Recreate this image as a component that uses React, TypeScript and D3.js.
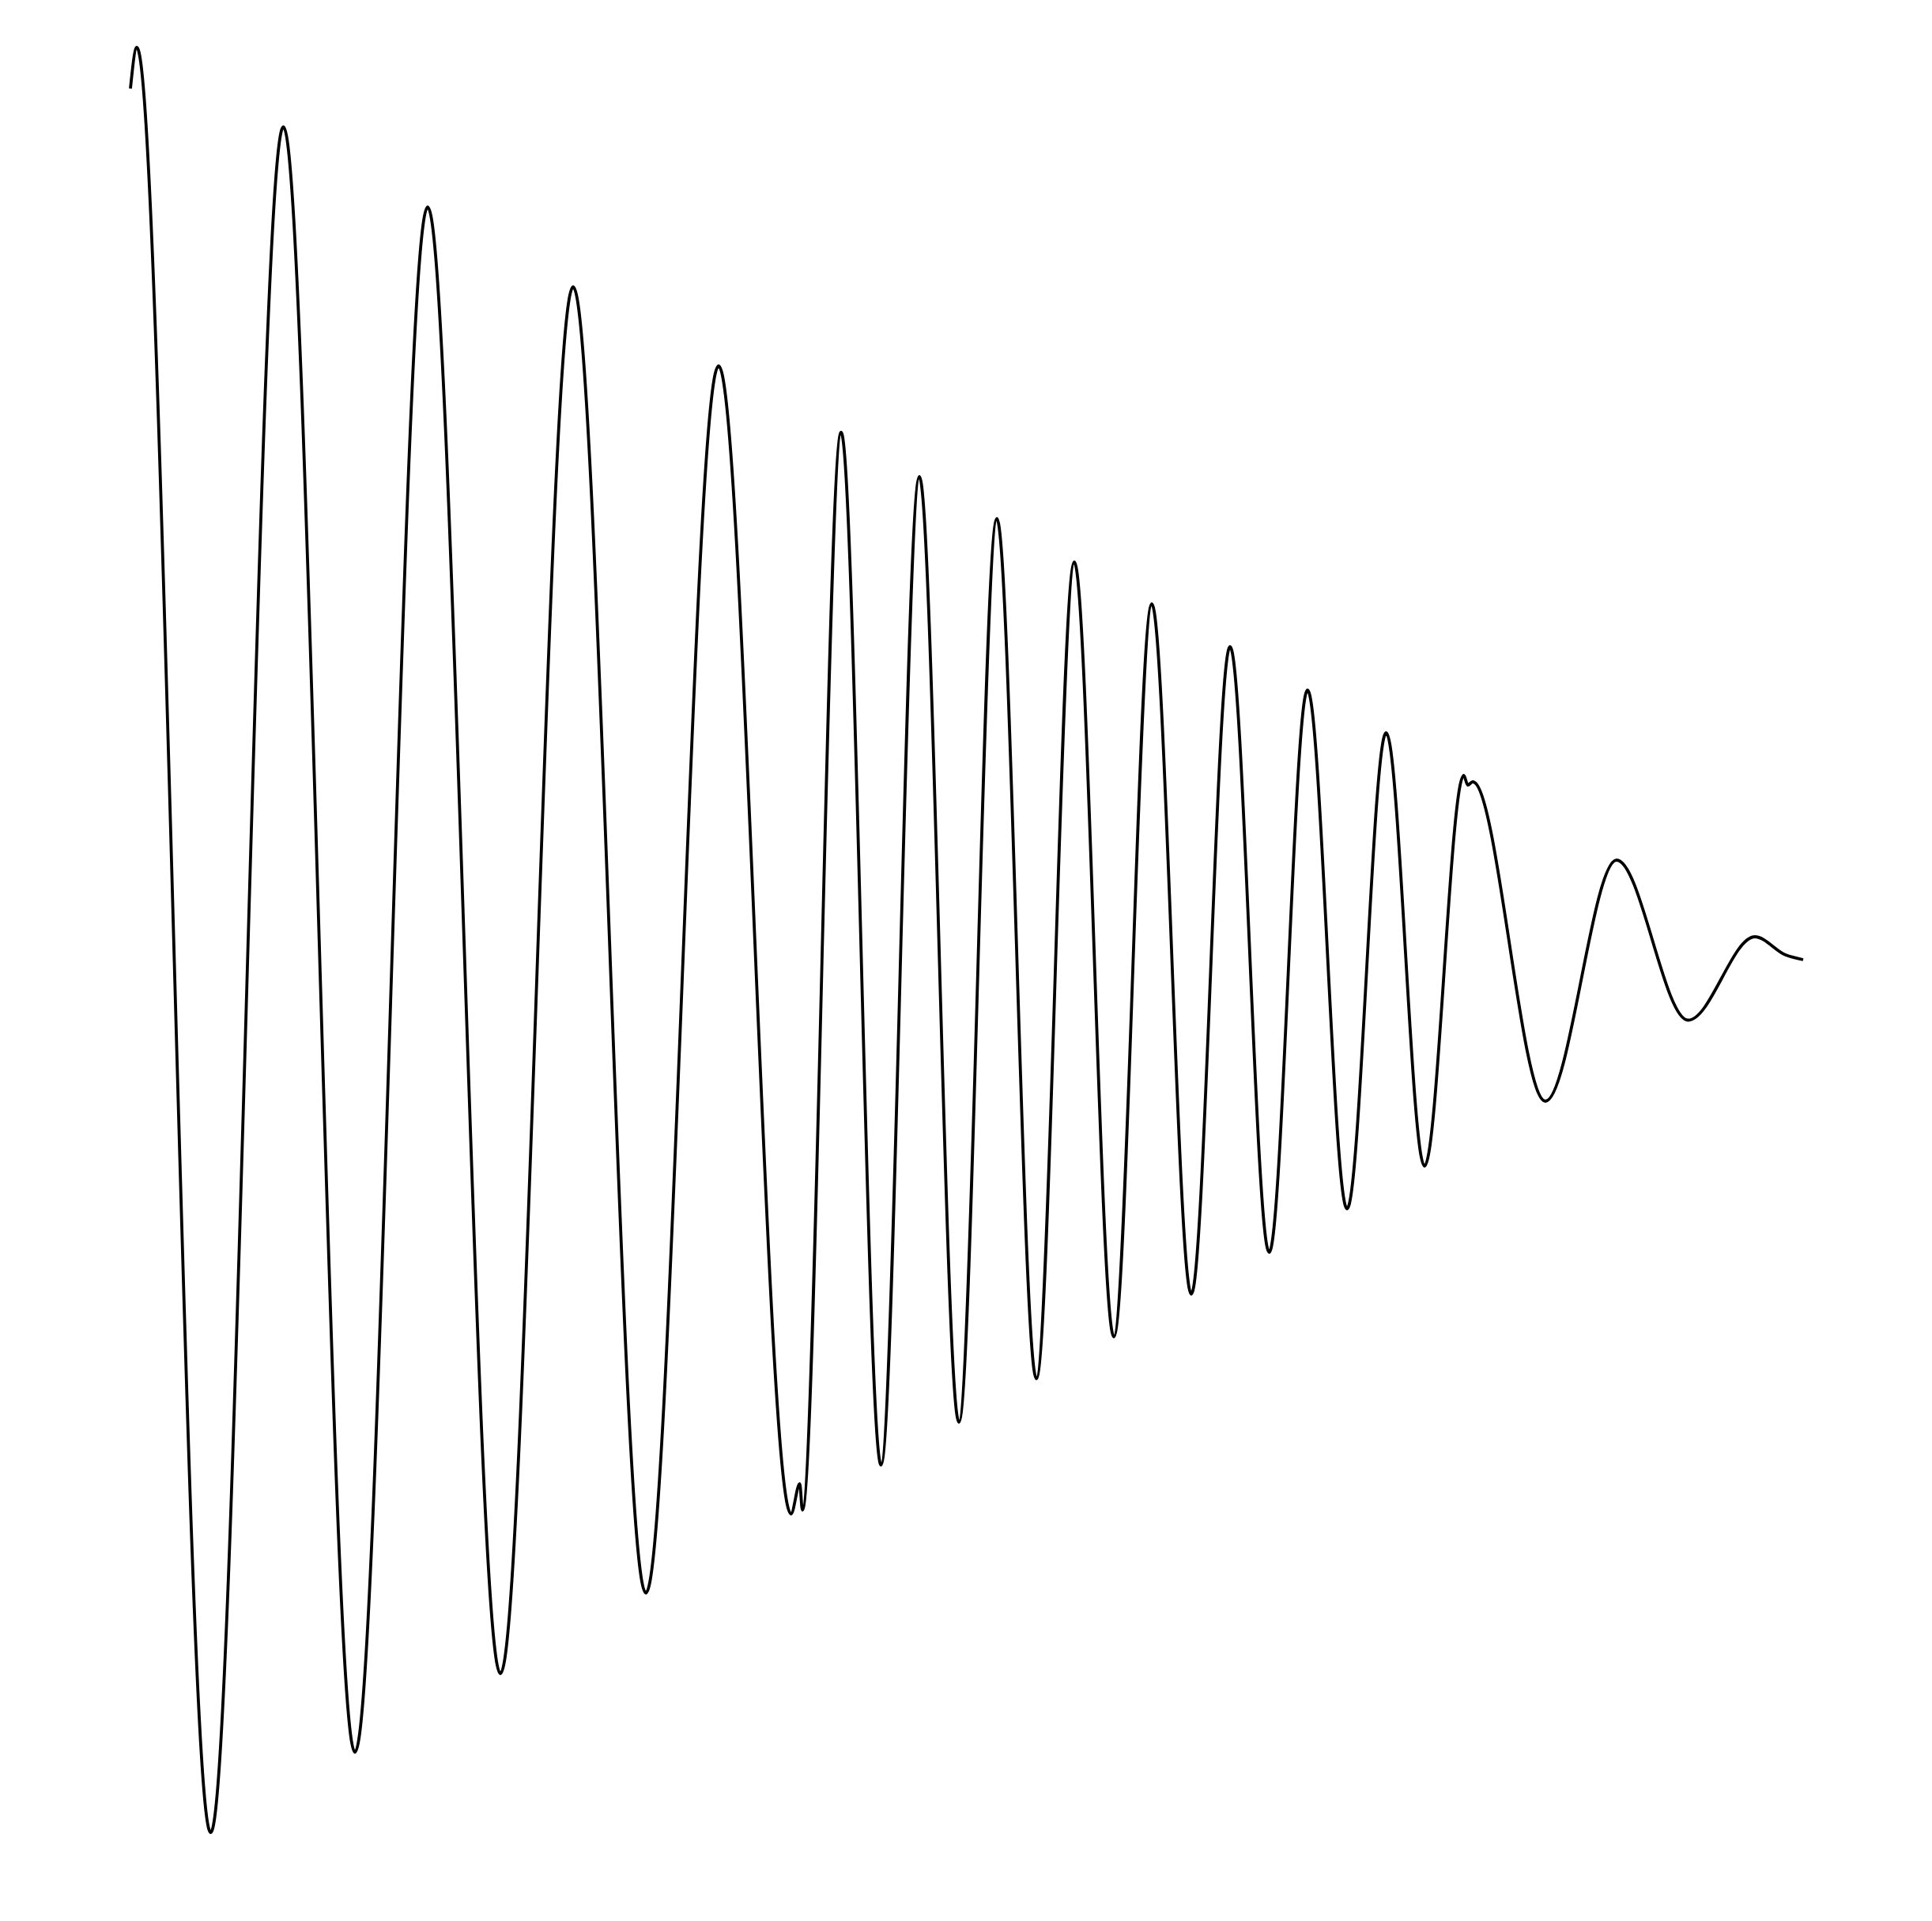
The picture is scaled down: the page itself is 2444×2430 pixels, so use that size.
import React from "react";
import * as d3 from "d3";

// Time (arbitrary units) of each turning point of the signal
const times: number[] = [
  0, 0.8, 10.15, 19.35, 28.4, 37.6, 46.8, 56.0, 65.2, 74.4, 83.57, 84.67, 85.0,
  89.9, 94.95, 99.8, 104.8, 109.6, 114.6, 119.4, 124.4, 129.2, 134.2, 139.1,
  144.05, 148.9, 153.9, 158.85, 163.7, 168.67, 169.17, 169.8, 179.0, 188.0,
  197.05, 205.5, 209.4, 211.6,
];

// Amplitude at each turning point
const amplitudes: number[] = [
  1.077, 1.129, -1.129, 1.0285, -1.0275, 0.927, -0.928, 0.826, -0.826, 0.726,
  -0.726, -0.688, -0.721, 0.642, -0.664, 0.586, -0.61, 0.533, -0.555, 0.478,
  -0.502, 0.425, -0.448, 0.371, -0.395, 0.316, -0.34, 0.262, -0.286, 0.208,
  0.196, 0.2, -0.204, 0.101, -0.1015, 0.004, -0.019, -0.025,
];

const W = 2444;
const H = 2430;

export default function App() {
  const x = d3.scaleLinear().domain([0, 211.6]).range([165, 2281]);
  const y = d3.scaleLinear().domain([-1.129, 1.129]).range([2318, 60]);
  const data = times.map((t, i) => [t, amplitudes[i]] as [number, number]);
  const line = d3
    .line<[number, number]>()
    .x((d) => x(d[0]))
    .y((d) => y(d[1]))
    .curve(d3.curveMonotoneX);
  return (
    <svg
      width={W}
      height={H}
      style={{ position: "absolute", left: 0, top: 0, background: "#fff", display: "block" }}
    >
      <rect width={W} height={H} fill="#fff" />
      <path d={line(data) || ""} fill="none" stroke="#000" strokeWidth={3.8} strokeLinejoin="round" />
    </svg>
  );
}
